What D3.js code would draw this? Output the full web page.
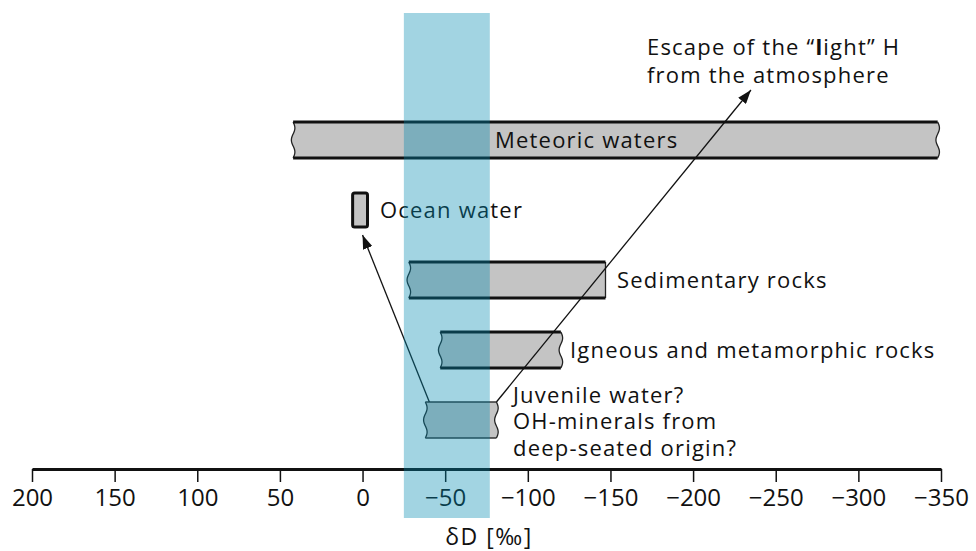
<!DOCTYPE html>
<html><head><meta charset="utf-8">
<script src="https://cdn.jsdelivr.net/npm/d3@7"></script>
<style>
body{margin:0;background:#fff;}
svg{display:block;font-family:"Open Sans",sans-serif;}
</style></head>
<body><svg id="c" width="976" height="551"></svg>
<script>
// ---- data ----
const categories = ["Meteoric waters","Ocean water","Sedimentary rocks","Igneous and metamorphic rocks","Juvenile water?"];
const highValues = [42, 6, -28, -47, -38];     // left end (δD ‰)
const lowValues  = [-348, -3, -147, -120, -81]; // right end (δD ‰)
const leftWavy   = [true, false, true, true, true];
const rightWavy  = [true, false, false, true, true];
const tickValues = [200,150,100,50,0,-50,-100,-150,-200,-250,-300,-350];
const bandRange  = [-25, -77];  // highlighted band
const juvenileExtra = ["OH-minerals from","deep-seated origin?"];
const escapeLabel = ["Escape of the “light” H","from the atmosphere"];
const escapeTipValue = -235;

const svg = d3.select("#c");
const x = d3.scaleLinear().domain([200,-350]).range([32,941]);
const y = d3.scalePoint().domain(categories).range([140,420]);
const barH = 36;
const fmt = d => d < 0 ? "\u2212" + Math.abs(d) : String(d);

function wave(x0, y0, y1, amp){
  const pts=[]; const n=24;
  for(let i=0;i<=n;i++){const t=i/n; pts.push([x0+amp*Math.sin(t*Math.PI*3), y0+(y1-y0)*t]);}
  return pts;
}
const lineGen = d3.line().curve(d3.curveBasis);

const bars = svg.append("g");
categories.forEach((c,i)=>{
  const xl = x(highValues[i]), xr = x(lowValues[i]);
  const yc = y(c), y0 = yc-barH/2, y1 = yc+barH/2;
  if(c==="Ocean water"){
    bars.append("rect").attr("x",xl).attr("y",y0+1).attr("width",xr-xl).attr("height",barH-2)
      .attr("rx",2).attr("fill","#c4c4c4").attr("stroke","#111").attr("stroke-width",3);
    return;
  }
  const thin = c==="Juvenile water?";
  const leftPts = leftWavy[i] ? wave(xl,y1,y0,1.8) : [[xl,y1],[xl,y0]];
  const rightPts = rightWavy[i] ? wave(xr,y0,y1,1.8) : [[xr,y0],[xr,y1]];
  const poly = [...rightPts, ...leftPts];
  const lp = d3.line().curve(d3.curveLinear);
  bars.append("path").attr("d", lp(poly)+"Z").attr("fill","#c4c4c4").attr("stroke","none");
  bars.append("path").attr("d", lineGen(rightPts)).attr("fill","none").attr("stroke","#222").attr("stroke-width",1.3);
  bars.append("path").attr("d", lineGen(leftPts)).attr("fill","none").attr("stroke","#222").attr("stroke-width",1.3);
  bars.append("line").attr("x1",xl).attr("x2",xr).attr("y1",y0).attr("y2",y0)
    .attr("stroke",thin?"#333":"#111").attr("stroke-width",thin?1.5:3);
  bars.append("line").attr("x1",xl).attr("x2",xr).attr("y1",y1).attr("y2",y1)
    .attr("stroke",thin?"#333":"#111").attr("stroke-width",thin?1.5:3);
});

// axis
const axis = d3.axisBottom(x).tickValues(tickValues).tickFormat(fmt).tickSize(13).tickSizeOuter(0).tickPadding(7);
const ag = svg.append("g").attr("transform","translate(0,469)").call(axis);
ag.select(".domain").attr("stroke","#111").attr("stroke-width",3);
ag.selectAll(".tick line").attr("stroke","#111").attr("stroke-width",1.5);
ag.selectAll(".tick text").attr("font-size",24).attr("fill","#111").attr("font-family","Open Sans");
svg.append("text").attr("x",489).attr("y",545).attr("text-anchor","middle").attr("font-size",23)
  .attr("letter-spacing",1.5).attr("fill","#111").text("δD [‰]");

// arrows
const defs = svg.append("defs");
defs.append("marker").attr("id","ah").attr("viewBox","0 0 14 10").attr("refX",14).attr("refY",5)
  .attr("markerWidth",14).attr("markerHeight",10).attr("markerUnits","userSpaceOnUse").attr("orient","auto")
  .append("path").attr("d","M0,0L14,5L0,10Z").attr("fill","#111");
const juvY = y("Juvenile water?") - barH/2;
const oceanBottom = y("Ocean water") + barH/2;
svg.append("line").attr("x1",x(-38)+4).attr("y1",juvY).attr("x2",x(0)).attr("y2",oceanBottom+7)
  .attr("stroke","#111").attr("stroke-width",1.3).attr("marker-end","url(#ah)");
svg.append("line").attr("x1",x(-81)).attr("y1",juvY).attr("x2",x(escapeTipValue)).attr("y2",90)
  .attr("stroke","#111").attr("stroke-width",1.3).attr("marker-end","url(#ah)");

// labels
const lab = svg.append("g").attr("font-size",22).attr("fill","#111").attr("letter-spacing",1.2);
lab.append("text").attr("x",495).attr("y",y("Meteoric waters")+8).text("Meteoric waters");
lab.append("text").attr("x",380).attr("y",y("Ocean water")+8).text("Ocean water");
lab.append("text").attr("x",617).attr("y",y("Sedimentary rocks")+8).text("Sedimentary rocks");
lab.append("text").attr("x",570).attr("y",y("Igneous and metamorphic rocks")+8).text("Igneous and metamorphic rocks");
const jt = lab.append("text").attr("x",513).attr("y",403);
[categories[4], ...juvenileExtra].forEach((t,i)=>
  jt.append("tspan").attr("x",513).attr("dy", i===0 ? 0 : 26.3).text(t));
const et = lab.append("text").attr("x",647).attr("y",55);
et.append("tspan").text("Escape of the “");
et.append("tspan").attr("font-weight","bold").text("l");
et.append("tspan").text("ight” H");
et.append("tspan").attr("x",647).attr("dy",28).text(escapeLabel[1]);

// highlighted band on top
svg.append("rect").attr("x",x(bandRange[0])).attr("width",x(bandRange[1])-x(bandRange[0]))
  .attr("y",13).attr("height",505).attr("fill","rgb(0,137,175)").attr("fill-opacity",0.365);
</script></body></html>
